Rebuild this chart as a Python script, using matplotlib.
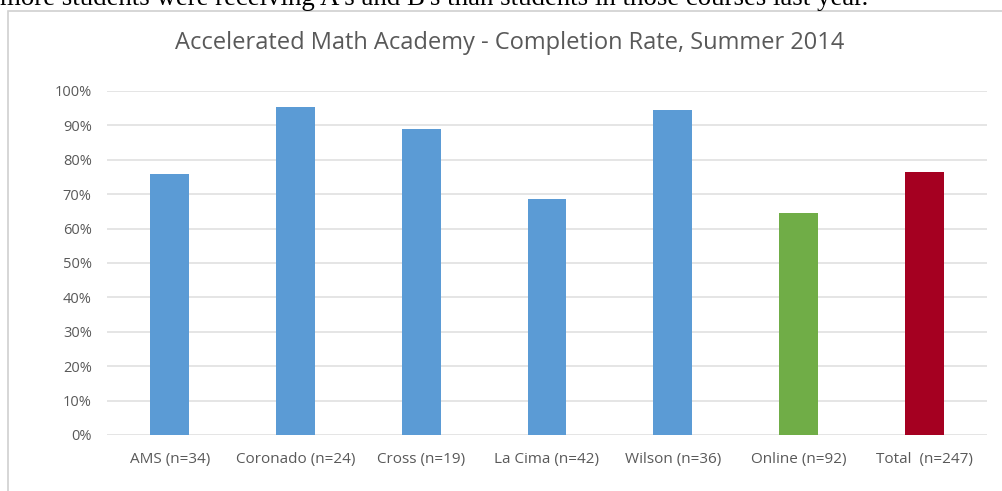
import matplotlib.pyplot as plt
from matplotlib.patches import Rectangle
from matplotlib.ticker import PercentFormatter

# data
schools = ["AMS (n=34)", "Coronado (n=24)", "Cross (n=19)", "La Cima (n=42)",
           "Wilson (n=36)", "Online (n=92)", "Total  (n=247)"]
rates = [0.76, 0.953, 0.889, 0.686, 0.944, 0.646, 0.765]
bar_colors = ["#5b9bd5", "#5b9bd5", "#5b9bd5", "#5b9bd5", "#5b9bd5", "#70ad47", "#a50021"]

W, H = 1003, 491
fig = plt.figure(figsize=(W / 100, H / 100), dpi=100)
fig.patch.set_facecolor("white")

# text of the document above the chart, cut at the top
fig.text(0, 1 - 5 / H, "more students were receiving A's and B's than students in those courses last year.",
         family="Liberation Serif", fontsize=19.4, va="baseline", ha="left", color="black")

# chart frame
fig.patches.append(Rectangle((8 / W, -0.1), 1.2, 1 - 11 / H + 0.1, transform=fig.transFigure,
                             fill=False, edgecolor="#d0d0d0", linewidth=1.2))

ax = fig.add_axes([107 / W, 1 - 435 / H, (987 - 107) / W, (435 - 91) / H])
x = range(len(schools))
ax.bar(x, rates, width=0.31, color=bar_colors, zorder=3)

ax.set_xlim(-0.5, len(schools) - 0.5)
ax.set_ylim(0, 1.0)
ax.set_yticks([i / 10 for i in range(11)])
ax.yaxis.set_major_formatter(PercentFormatter(1.0, decimals=0))
ax.set_xticks(list(x))
ax.set_xticklabels(schools)
ax.grid(axis="y", color="#e0e0e0", linewidth=1.2, zorder=0)
for s in ax.spines.values():
    s.set_visible(False)
ax.tick_params(length=0, labelcolor="#595959")
ax.tick_params(axis="y", labelsize=10.5, pad=11)
ax.tick_params(axis="x", labelsize=11, pad=12)
for lab in ax.get_xticklabels() + ax.get_yticklabels():
    lab.set_family("Open Sans")

fig.text(510 / W, 1 - 43 / H, "Accelerated Math Academy - Completion Rate, Summer 2014",
         family="Open Sans", fontsize=17, color="#595959", ha="center", va="center")

fig.savefig("out.png", dpi=100)
